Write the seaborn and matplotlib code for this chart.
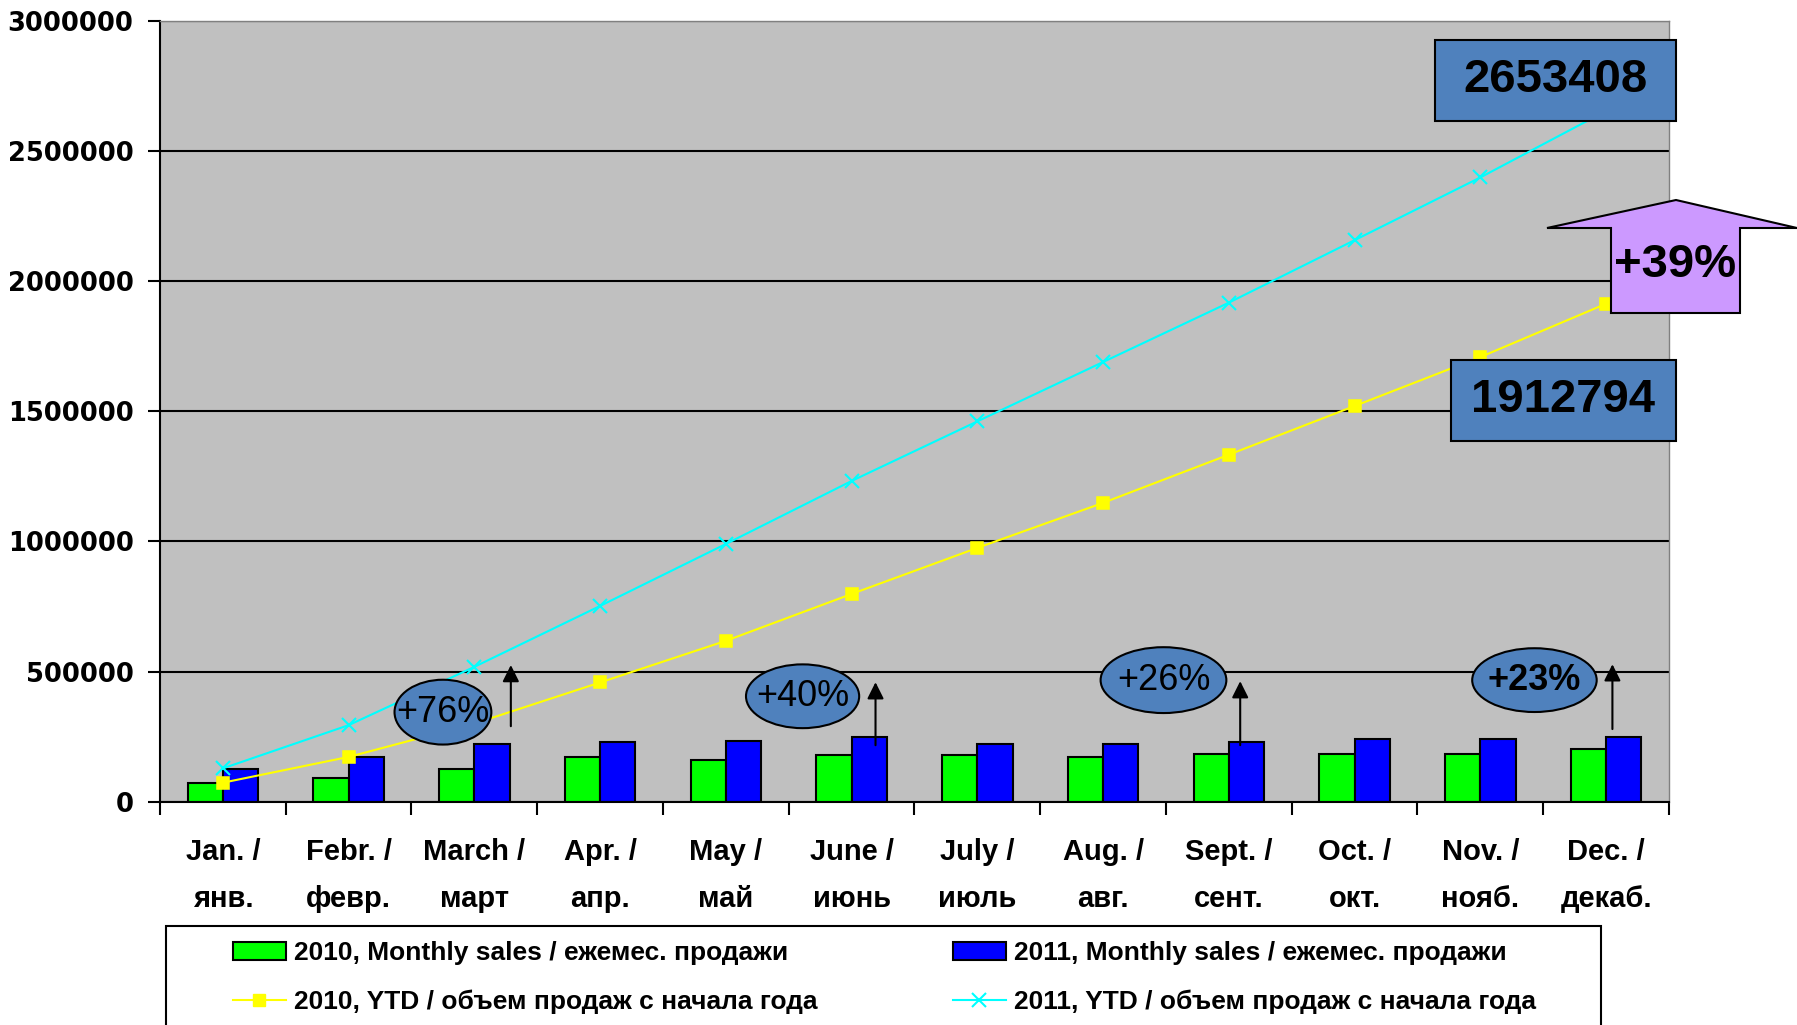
import numpy as np
import pandas as pd
import seaborn as sns
import matplotlib.pyplot as plt
from matplotlib.patches import Ellipse, Rectangle, Polygon, Patch
from matplotlib.lines import Line2D

# chart data
months = ["Jan. /\nянв.", "Febr. /\nфевр.", "March /\nмарт", "Apr. /\nапр.",
          "May /\nмай", "June /\nиюнь", "July /\nиюль", "Aug. /\nавг.",
          "Sept. /\nсент.", "Oct. /\nокт.", "Nov. /\nнояб.", "Dec. /\nдекаб."]
sales_2010 = [70500, 89700, 124000, 170000, 160000, 179000,
              179000, 170000, 185000, 185000, 185000, 204000]
sales_2011 = [125400, 170000, 222500, 230000, 233000, 249000,
              222500, 222500, 230000, 240000, 240000, 249000]
ytd_2010 = [73000, 172000, 300000, 458000, 618000, 798000,
            975000, 1148000, 1333000, 1520000, 1708000, 1912794]
ytd_2011 = [128000, 294000, 518000, 752000, 990000, 1232000,
            1461000, 1689000, 1917000, 2157000, 2398000, 2653408]
yticks = [0, 500000, 1000000, 1500000, 2000000, 2500000, 3000000]
growth = ["+76%", "+40%", "+26%", "+23%"]
legend_labels = ["2010, Monthly sales / ежемес. продажи",
                 "2010, YTD / объем продаж с начала года",
                 "2011, Monthly sales / ежемес. продажи",
                 "2011, YTD / объем продаж с начала года"]

W, H = 1797, 1025
def fx(px):
    return px / W
def fy(py):
    return 1 - py / H

GREEN, BLUE, YELLOW, CYAN = "#00FF00", "#0000FF", "#FFFF00", "#00FFFF"
STEEL, PURPLE = "#4F81BD", "#CC99FF"
ARIAL = "Liberation Sans"

fig = plt.figure(figsize=(W / 100, H / 100), dpi=100)
ax = fig.add_axes([fx(160), fy(801.7), (1669 - 160) / W, (801.7 - 20.7) / H])
ax.set_facecolor("#C0C0C0")

bars = pd.DataFrame({"month": months * 2,
                     "year": ["2010"] * 12 + ["2011"] * 12,
                     "sales": sales_2010 + sales_2011})
sns.barplot(data=bars, x="month", y="sales", hue="year", palette=[GREEN, BLUE],
            width=0.56, gap=0, saturation=1, edgecolor="black", linewidth=1.5,
            legend=False, ax=ax)

ytd = pd.DataFrame({"month": months, "ytd_2010": ytd_2010, "ytd_2011": ytd_2011})
sns.pointplot(data=ytd, x="month", y="ytd_2010", color=YELLOW, markers="s",
              markersize=9, linewidth=1.5, errorbar=None, ax=ax)
sns.pointplot(data=ytd, x="month", y="ytd_2011", color=CYAN, markers="x",
              markersize=10, markeredgewidth=1.5, linewidth=1.5, errorbar=None, ax=ax)
for ln in ax.lines:
    ln.set_zorder(4)

# axes styling
ax.set_xlim(-0.5, 11.5)
ax.set_ylim(0, 3000000)
ax.set_xlabel("")
ax.set_ylabel("")
ax.set_axisbelow(True)
ax.yaxis.grid(True, color="black", lw=1.5)
ax.xaxis.grid(False)
for s in ["left", "bottom"]:
    ax.spines[s].set_color("black")
    ax.spines[s].set_linewidth(1.5)
for s in ["top", "right"]:
    ax.spines[s].set_color("#808080")
    ax.spines[s].set_linewidth(1)

ax.set_yticks(yticks)
ax.set_yticklabels([str(v) for v in yticks], fontsize=18.5, fontweight="bold",
                   family="DejaVu Sans")
ax.tick_params(axis="y", direction="out", length=9, width=1.5, pad=10)

ax.set_xticks(range(len(months)))
ax.set_xticklabels(months, fontsize=21, fontweight="bold", family=ARIAL,
                   linespacing=1.87)
ax.set_xticks(np.arange(-0.5, 12, 1), minor=True)
ax.tick_params(axis="x", which="major", length=0, pad=26)
ax.tick_params(axis="x", which="minor", direction="out", length=9, width=1.5)

# growth ellipses and arrows
ell = [(1.75, 344000, 0.77, 249000), (4.61, 405000, 0.90, 245000),
       (7.48, 467000, 1.00, 253000), (10.43, 467000, 0.99, 245000)]
weights = ["normal", "normal", "normal", "bold"]
for (cx, cy, ew, eh), txt, wgt in zip(ell, growth, weights):
    ax.add_patch(Ellipse((cx, cy), ew, eh, fc=STEEL, ec="black", lw=1.5, zorder=5))
    ax.text(cx, cy, txt, ha="center", va="center", fontsize=26, fontweight=wgt,
            family=ARIAL, zorder=6)

arrows = [(2.29, 290000, 525000), (5.19, 217000, 459000),
          (8.09, 217000, 463000), (11.05, 279000, 528000)]
for x, y0, y1 in arrows:
    ax.annotate("", xy=(x, y1), xytext=(x, y0),
                arrowprops=dict(arrowstyle="-|>", color="black", lw=1.5,
                                mutation_scale=25, shrinkA=0, shrinkB=0),
                zorder=6)

# total boxes
for (x0, y0, x1, y1), val in [((1435, 40, 1676, 121), ytd_2011[-1]),
                              ((1451, 360, 1676, 441), ytd_2010[-1])]:
    ax.add_patch(Rectangle((fx(x0), fy(y1)), fx(x1) - fx(x0), fy(y0) - fy(y1),
                           transform=fig.transFigure, fc=STEEL, ec="black",
                           lw=1.5, clip_on=False, zorder=7))
    fig.text(fx((x0 + x1) / 2), fy((y0 + y1) / 2), str(val), ha="center",
             va="center", fontsize=34, fontweight="bold", family=ARIAL, zorder=8)

# purple block arrow
pts = [(1676, 200), (1797, 228), (1740, 228), (1740, 313),
       (1611, 313), (1611, 228), (1547, 228)]
ax.add_patch(Polygon([(fx(a), fy(b)) for a, b in pts], closed=True,
                     transform=fig.transFigure, fc=PURPLE, ec="black", lw=1.5,
                     clip_on=False, zorder=7))
fig.text(fx(1675), fy(265), "+39%", ha="center", va="center", fontsize=34,
         fontweight="bold", family=ARIAL, zorder=8)

# legend
h_g = Patch(fc=GREEN, ec="black", lw=1.5)
h_b = Patch(fc=BLUE, ec="black", lw=1.5)
h_y = Line2D([], [], color=YELLOW, marker="s", ms=9, lw=1.5)
h_c = Line2D([], [], color=CYAN, marker="x", ms=10, mew=1.5, lw=1.5)
fig.add_artist(Rectangle((fx(166), -0.02), fx(1601) - fx(166), fy(926) + 0.02,
                         transform=fig.transFigure, fc="white", ec="black", lw=1.5))
prop = dict(family=ARIAL, weight="bold", size=19)
for hs, labs, xpx in [([h_g, h_y], legend_labels[:2], 233),
                      ([h_b, h_c], legend_labels[2:], 953)]:
    fig.legend(handles=hs, labels=labs, loc="upper left",
               bbox_to_anchor=(fx(xpx), fy(941)), frameon=False, borderpad=0,
               borderaxespad=0, handlelength=2.0, handletextpad=0.3,
               labelspacing=0.92, prop=prop)

fig.savefig("out.png", dpi=100)
